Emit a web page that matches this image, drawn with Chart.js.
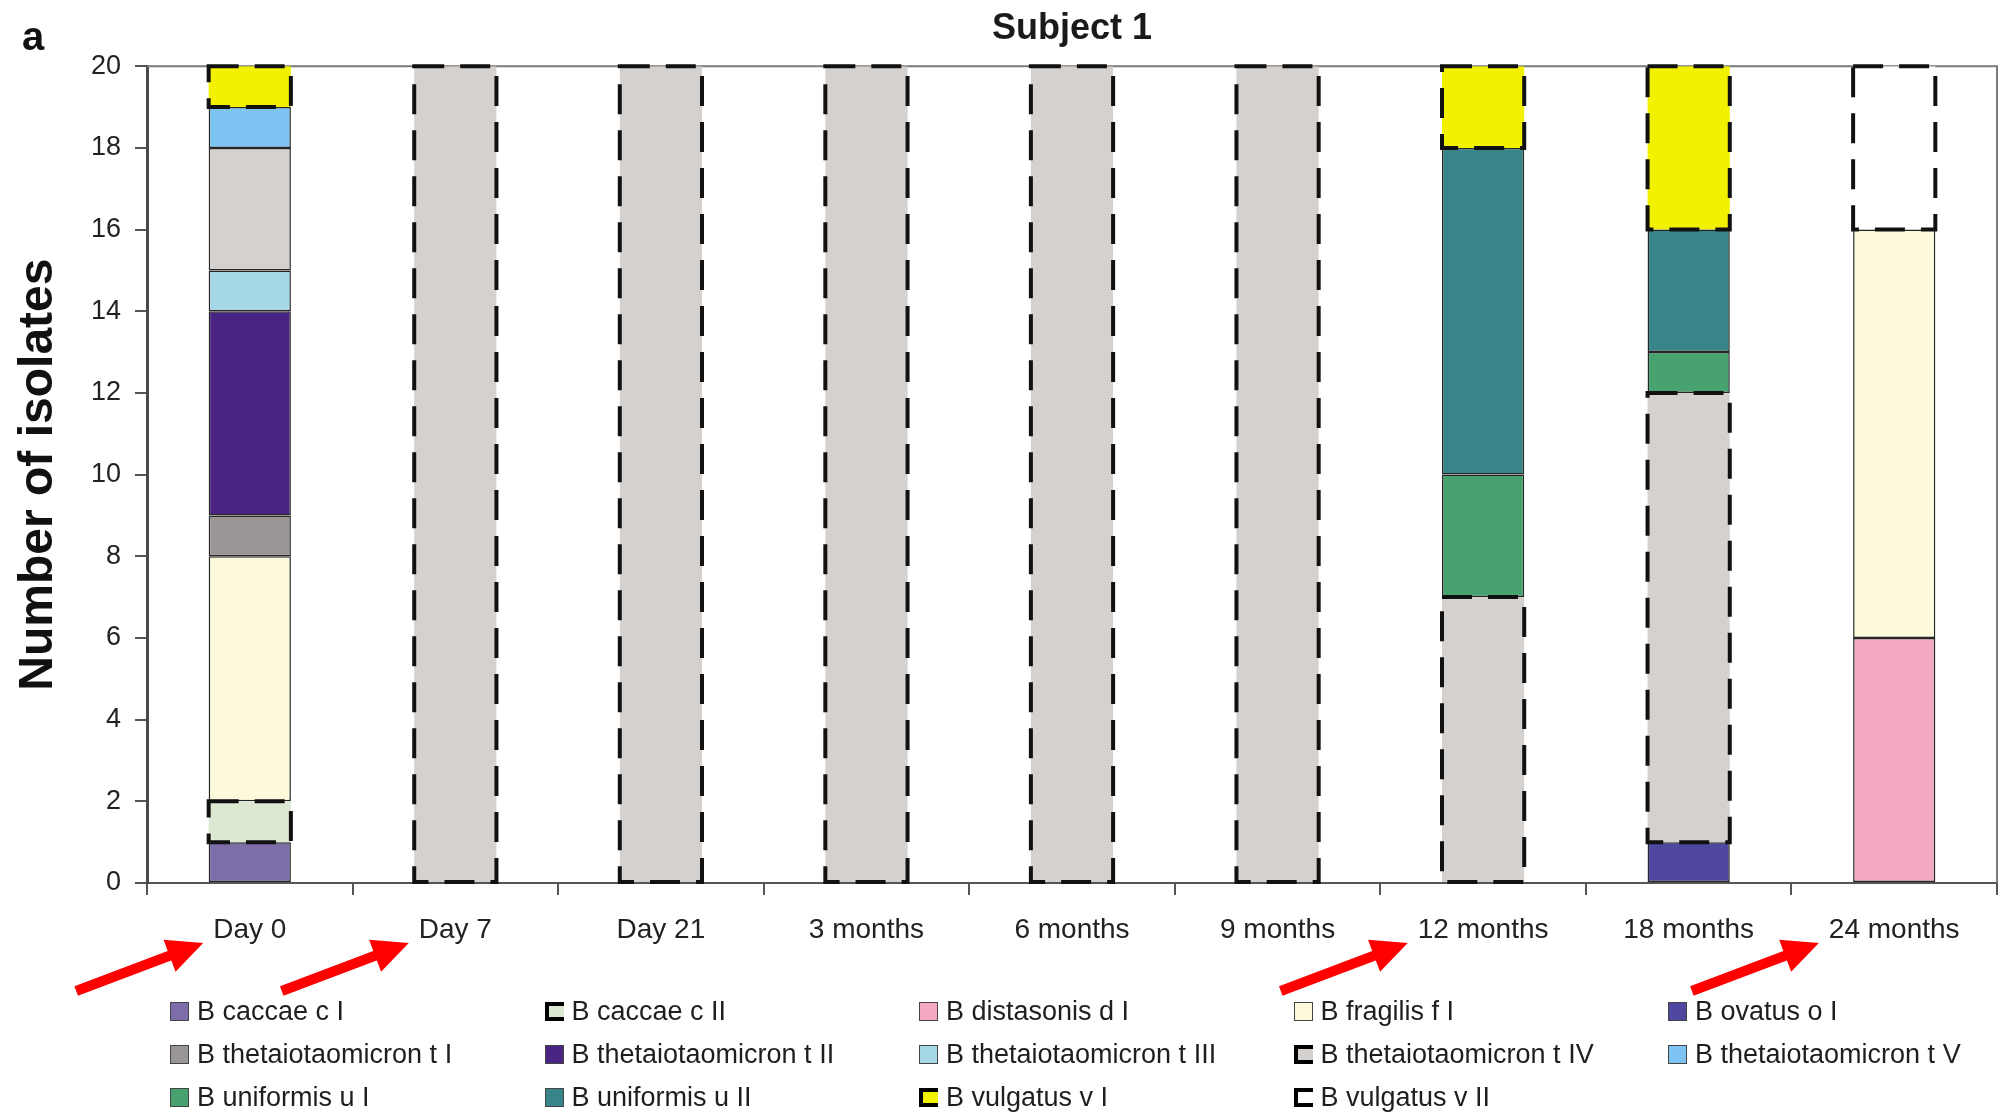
<!DOCTYPE html>
<html>
<head>
<meta charset="utf-8">
<script src="https://cdn.jsdelivr.net/npm/chart.js@4/dist/chart.umd.min.js"></script>
<style>
  html, body { margin: 0; padding: 0; background: #ffffff; }
  #wrap { position: relative; width: 2000px; height: 1113px; overflow: hidden; font-family: 'Liberation Sans', Arial, sans-serif; }
  #c { position: absolute; left: 0; top: 0; }
  #panel { position: absolute; left: 22px; top: 12px; font: bold 40px 'Liberation Sans', Arial, sans-serif; color: #111; line-height: 48px; }
  #legend { position: absolute; left: 170px; top: 990px; display: grid; grid-template-columns: repeat(5, 374.5px); grid-auto-rows: 43px; }
  .li { display: flex; align-items: center; font-size: 27px; color: #1e1e1e; white-space: nowrap; }
  .sw { width: 19px; height: 19px; box-sizing: border-box; margin-right: 8px; flex: none; border: 1px solid #444; }
  .sw.dash { border: none; border-left: 4px solid #000; border-top: 4px solid #000; border-bottom: 4px solid #000; }
</style>
</head>
<body>
<div id="wrap">
  <canvas id="c" width="2000" height="1113"></canvas>
  <div id="panel">a</div>
  <div id="legend"></div>
</div>
<script>
// ---- data ----
const categories = ['Day 0', 'Day 7', 'Day 21', '3 months', '6 months', '9 months', '12 months', '18 months', '24 months'];
const seriesNames = [
  'B caccae c I', 'B caccae c II', 'B distasonis d I', 'B fragilis f I', 'B ovatus o I',
  'B thetaiotaomicron t I', 'B thetaiotaomicron t II', 'B thetaiotaomicron t III', 'B thetaiotaomicron t IV', 'B thetaiotaomicron t V',
  'B uniformis u I', 'B uniformis u II', 'B vulgatus v I', 'B vulgatus v II'
];
const caccae_cI   = [1, 0, 0, 0, 0, 0, 0, 0, 0];
const caccae_cII  = [1, 0, 0, 0, 0, 0, 0, 0, 0];
const distasonis_dI = [0, 0, 0, 0, 0, 0, 0, 0, 6];
const fragilis_fI = [6, 0, 0, 0, 0, 0, 0, 0, 10];
const ovatus_oI   = [0, 0, 0, 0, 0, 0, 0, 1, 0];
const theta_tI    = [1, 0, 0, 0, 0, 0, 0, 0, 0];
const theta_tII   = [5, 0, 0, 0, 0, 0, 0, 0, 0];
const theta_tIII  = [1, 0, 0, 0, 0, 0, 0, 0, 0];
const theta_tIV   = [3, 20, 20, 20, 20, 20, 7, 11, 0];
const theta_tV    = [1, 0, 0, 0, 0, 0, 0, 0, 0];
const uniformis_uI  = [0, 0, 0, 0, 0, 0, 3, 1, 0];
const uniformis_uII = [0, 0, 0, 0, 0, 0, 8, 3, 0];
const vulgatus_vI   = [1, 0, 0, 0, 0, 0, 2, 4, 0];
const vulgatus_vII  = [0, 0, 0, 0, 0, 0, 0, 0, 4];
const yTicks = [0, 2, 4, 6, 8, 10, 12, 14, 16, 18, 20];
const arrowedCategories = ['Day 0', 'Day 7', '12 months', '24 months'];

const seriesValues = [caccae_cI, caccae_cII, distasonis_dI, fragilis_fI, ovatus_oI,
  theta_tI, theta_tII, theta_tIII, theta_tIV, theta_tV, uniformis_uI, uniformis_uII, vulgatus_vI, vulgatus_vII];

// ---- styles ----
const seriesColors = ['#7d6da8', '#dde8d3', '#f4a9c3', '#fdfadb', '#4f47a0',
  '#9a9696', '#4a2483', '#a6d8e8', '#d5d1ce', '#7ec4f2', '#48a26f', '#378588', '#f1f100', '#ffffff'];
const seriesDashed = [false, true, false, false, false, false, false, false, true, false, false, false, true, true];
// categories where a dashed series is drawn with a solid outline in the figure
const solidOutlineAt = { 'B thetaiotaomicron t IV': ['Day 0'] };

const FONT = "'Liberation Sans', Arial, sans-serif";

function isDashed(i, j) {
  if (!seriesDashed[i]) return false;
  const ex = solidOutlineAt[seriesNames[i]];
  return !(ex && ex.includes(categories[j]));
}

const datasets = seriesNames.map((name, i) => ({
  label: name,
  data: seriesValues[i].map(v => (v === 0 ? null : v)),
  backgroundColor: seriesColors[i],
  borderColor: '#262626',
  borderWidth: (c) => (isDashed(i, c.dataIndex) ? 0 : 1.5),
  borderSkipped: false,
  stack: 's'
}));

// plot frame (top + right grey lines)
const framePlugin = {
  id: 'frame',
  beforeDatasetsDraw(chart) {
    const { ctx, chartArea: a } = chart;
    ctx.save();
    ctx.strokeStyle = '#7a7a7a';
    ctx.lineWidth = 2;
    ctx.beginPath();
    ctx.moveTo(a.left, a.top);
    ctx.lineTo(a.right, a.top);
    ctx.lineTo(a.right, a.bottom);
    ctx.stroke();
    ctx.restore();
  }
};

// dashed outlines for dashed series
const dashPlugin = {
  id: 'dashOutline',
  afterDatasetsDraw(chart) {
    const ctx = chart.ctx;
    ctx.save();
    ctx.strokeStyle = '#111';
    ctx.lineWidth = 4;
    ctx.setLineDash([30, 16]);
    chart.data.datasets.forEach((ds, i) => {
      const meta = chart.getDatasetMeta(i);
      meta.data.forEach((el, j) => {
        if (ds.data[j] == null || !isDashed(i, j)) return;
        const p = el.getProps(['x', 'y', 'base', 'width'], true);
        const l = p.x - p.width / 2, r = p.x + p.width / 2;
        const t = Math.min(p.y, p.base), b = Math.max(p.y, p.base);
        ctx.strokeRect(l, t, r - l, b - t);
      });
    });
    ctx.restore();
  }
};

// red arrows pointing at some category labels
const arrowPlugin = {
  id: 'arrows',
  afterDraw(chart) {
    const ctx = chart.ctx;
    const xs = chart.scales.x;
    ctx.save();
    ctx.font = '28px ' + FONT;
    ctx.fillStyle = '#ff0000';
    ctx.strokeStyle = '#ff0000';
    arrowedCategories.forEach(cat => {
      const idx = categories.indexOf(cat);
      const cx = xs.getPixelForValue(idx);
      const w = ctx.measureText(cat).width;
      const tipX = cx - w / 2 - 10;
      const tipY = xs.top + 60;
      const dx = -127, dy = 48;
      const len = Math.hypot(dx, dy);
      const ux = -dx / len, uy = -dy / len;
      const tailX = tipX + dx, tailY = tipY + dy;
      const headLen = 36, headHalf = 17;
      const bx = tipX - ux * headLen, by = tipY - uy * headLen;
      ctx.lineWidth = 10;
      ctx.beginPath();
      ctx.moveTo(tailX, tailY);
      ctx.lineTo(bx + ux * 2, by + uy * 2);
      ctx.stroke();
      ctx.beginPath();
      ctx.moveTo(tipX, tipY);
      ctx.lineTo(bx - uy * headHalf, by + ux * headHalf);
      ctx.lineTo(bx + uy * headHalf, by - ux * headHalf);
      ctx.closePath();
      ctx.fill();
    });
    ctx.restore();
  }
};

new Chart(document.getElementById('c'), {
  type: 'bar',
  data: { labels: categories, datasets },
  options: {
    responsive: false,
    animation: false,
    events: [],
    layout: { padding: { top: 0, right: 3, left: 0, bottom: 0 } },
    plugins: {
      legend: { display: false },
      tooltip: { enabled: false },
      title: {
        display: true,
        text: 'Subject 1',
        fullSize: false,
        color: '#1a1a1a',
        font: { family: FONT, size: 36, weight: 'bold', lineHeight: 1.2 },
        padding: { top: 7, bottom: 16 }
      }
    },
    datasets: { bar: { categoryPercentage: 1.0, barPercentage: 0.4 } },
    scales: {
      x: {
        stacked: true,
        afterFit(scale) { scale.height = 230; },
        grid: { display: true, drawOnChartArea: false, drawTicks: true, tickLength: 12, color: '#555', lineWidth: 2, offset: true },
        border: { display: true, color: '#555', width: 2 },
        ticks: { color: '#222', font: { family: FONT, size: 28 }, padding: 18, maxRotation: 0, autoSkip: false }
      },
      y: {
        stacked: true,
        min: 0,
        max: 20,
        afterFit(scale) { scale.width = 147; },
        afterBuildTicks(scale) { scale.ticks = yTicks.map(v => ({ value: v })); },
        grid: { display: true, drawOnChartArea: false, drawTicks: true, tickLength: 12, color: '#555', lineWidth: 2 },
        border: { display: true, color: '#4a4a4a', width: 3 },
        ticks: { color: '#222', font: { family: FONT, size: 27 }, padding: 14 },
        title: {
          display: true,
          text: 'Number of isolates',
          color: '#111',
          font: { family: FONT, size: 48, weight: 'bold', lineHeight: 1.2 },
          padding: { top: 10, bottom: 0 }
        }
      }
    }
  },
  plugins: [framePlugin, dashPlugin, arrowPlugin]
});

// HTML legend
const legendEl = document.getElementById('legend');
seriesNames.forEach((name, i) => {
  const item = document.createElement('div');
  item.className = 'li';
  const sw = document.createElement('span');
  sw.className = 'sw' + (seriesDashed[i] ? ' dash' : '');
  sw.style.background = seriesColors[i];
  const tx = document.createElement('span');
  tx.textContent = name;
  item.appendChild(sw);
  item.appendChild(tx);
  legendEl.appendChild(item);
});
</script>
</body>
</html>
